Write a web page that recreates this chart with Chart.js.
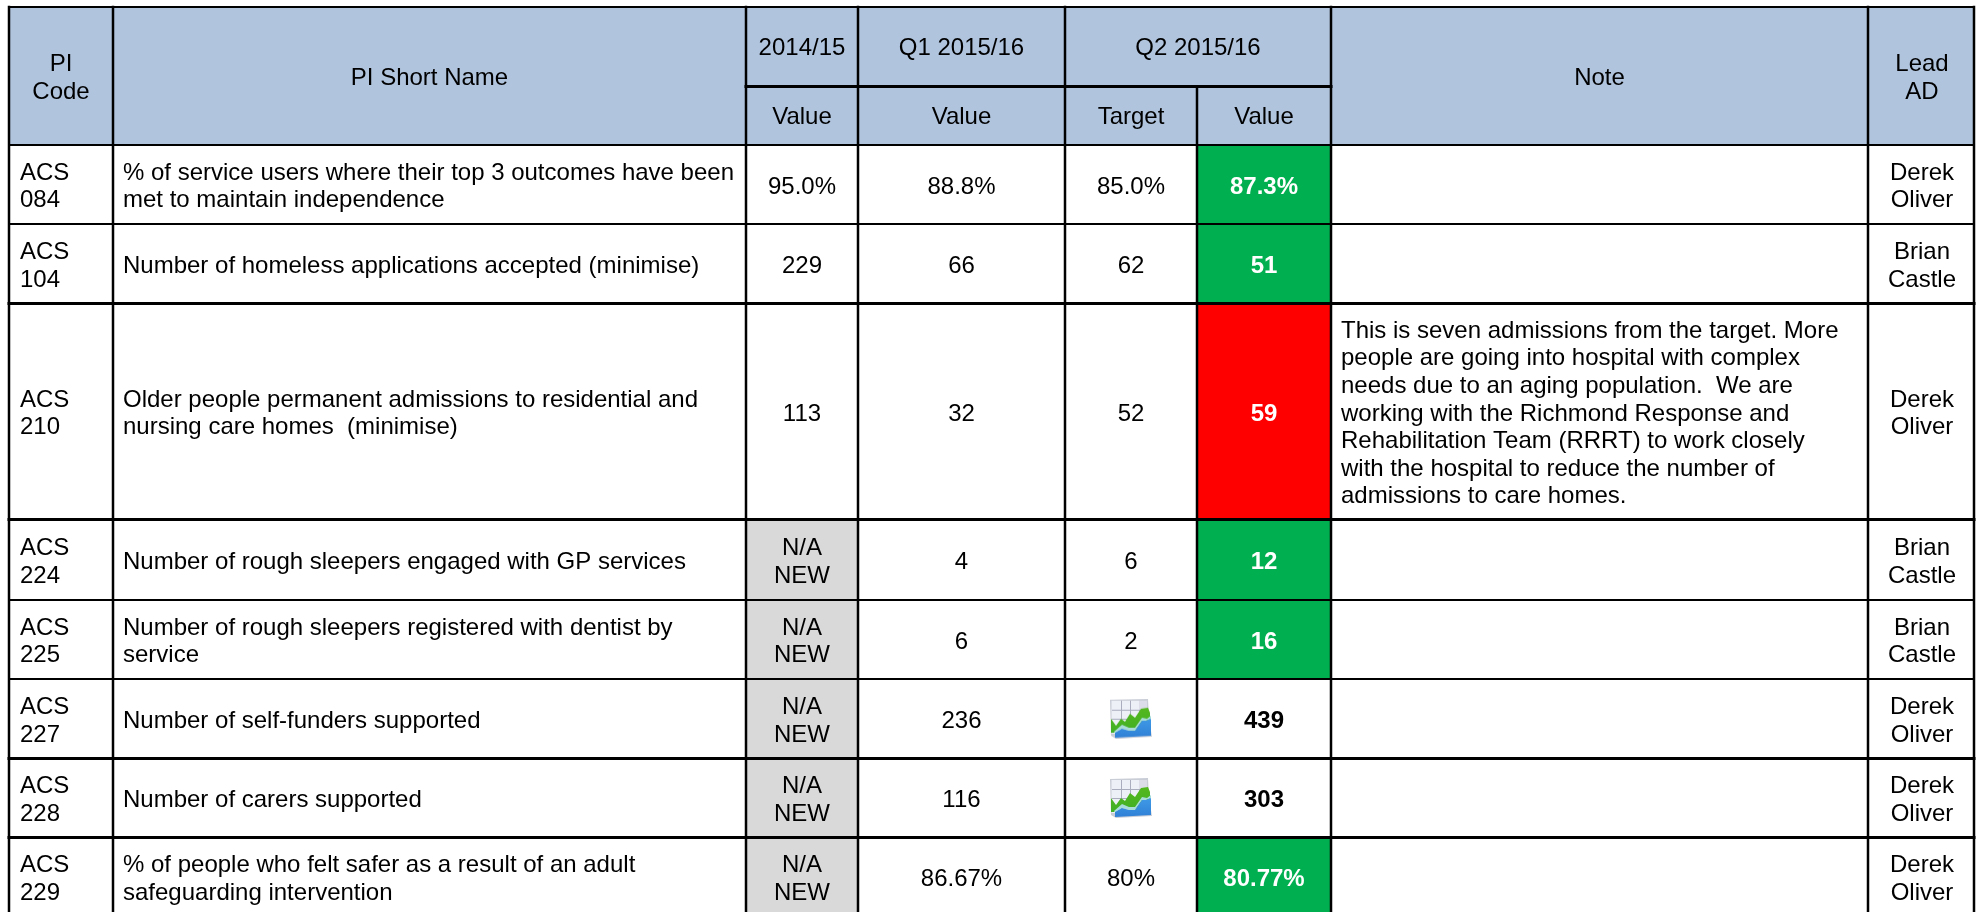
<!DOCTYPE html>
<html>
<head>
<meta charset="utf-8">
<title>PI table</title>
<script src="https://cdn.jsdelivr.net/npm/chart.js@4/dist/chart.umd.min.js"></script>
<style>
html, body { margin: 0; padding: 0; background: #fff; overflow: hidden; }
canvas { display: block; }
</style>
</head>
<body>
<canvas id="piTable" width="1982" height="912"></canvas>
<script>
// table contents
const piCodes = ['ACS\n084', 'ACS\n104', 'ACS\n210', 'ACS\n224', 'ACS\n225', 'ACS\n227', 'ACS\n228', 'ACS\n229'];
const piNames = [
    '% of service users where their top 3 outcomes have been\nmet to maintain independence',
    'Number of homeless applications accepted (minimise)',
    'Older people permanent admissions to residential and\nnursing care homes  (minimise)',
    'Number of rough sleepers engaged with GP services',
    'Number of rough sleepers registered with dentist by\nservice',
    'Number of self-funders supported',
    'Number of carers supported',
    '% of people who felt safer as a result of an adult\nsafeguarding intervention',
];
const values2014 = ['95.0%', '229', '113', 'N/A\nNEW', 'N/A\nNEW', 'N/A\nNEW', 'N/A\nNEW', 'N/A\nNEW'];
const valuesQ1 = ['88.8%', '66', '32', '4', '6', '236', '116', '86.67%'];
const targetsQ2 = ['85.0%', '62', '52', '6', '2', null, null, '80%'];
const valuesQ2 = ['87.3%', '51', '59', '12', '16', '439', '303', '80.77%'];
const statusQ2 = ['good', 'good', 'bad', 'good', 'good', 'none', 'none', 'good'];
const notes = [
    '', '',
    'This is seven admissions from the target. More\npeople are going into hospital with complex\nneeds due to an aging population.  We are\nworking with the Richmond Response and\nRehabilitation Team (RRRT) to work closely\nwith the hospital to reduce the number of\nadmissions to care homes.',
    '', '', '', '', '',
];
const leads = ['Derek\nOliver', 'Brian\nCastle', 'Derek\nOliver', 'Brian\nCastle', 'Brian\nCastle', 'Derek\nOliver', 'Derek\nOliver', 'Derek\nOliver'];

// grid layout on the x / y scales
const colEdges = [9, 113, 746, 858, 1065, 1197, 1331, 1868, 1974];
const rowEdges = [7, 86.5, 145, 224, 303.5, 519.5, 600, 679, 758.5, 837.5, 916];
const ruleWidths = [2, 3, 2, 2, 3, 3, 2, 2, 3, 3, 3];

const COLORS = { header: '#b0c4de', good: '#00b050', bad: '#ff0000', none: '#ffffff', na: '#d9d9d9', cell: '#ffffff' };
const FONT = '"Liberation Sans", Arial, sans-serif';
const FONT_SIZE = 24;
const LINE_HEIGHT = 27.6;

const mid = (a, b) => (a + b) / 2;
const bodyRows = piCodes.map((_, i) => i + 2);

// filled cells, one floating bar dataset per column
function columnBars(col, colour) {
    const x0 = colEdges[col];
    const x1 = colEdges[col + 1];
    return {
        type: 'bar',
        order: 2,
        grouped: false,
        barThickness: x1 - x0,
        borderWidth: 0,
        backgroundColor: bodyRows.map((r, i) => colour(i)),
        data: bodyRows.map((r) => ({ x: mid(x0, x1), y: [rowEdges[r], rowEdges[r + 1]] })),
    };
}

function headerBar() {
    return {
        type: 'bar',
        order: 2,
        grouped: false,
        barThickness: colEdges[8] - colEdges[0],
        borderWidth: 0,
        backgroundColor: COLORS.header,
        data: [{ x: mid(colEdges[0], colEdges[8]), y: [rowEdges[0], rowEdges[2]] }],
    };
}

function rule(x0, y0, x1, y1, width) {
    return {
        type: 'line',
        order: 1,
        borderColor: '#000000',
        borderWidth: width,
        borderCapStyle: 'square',
        pointRadius: 0,
        fill: false,
        clip: false,
        data: [{ x: x0, y: y0 }, { x: x1, y: y1 }],
    };
}

function gridRules() {
    const rules = [];
    const top = rowEdges[0];
    const bottom = rowEdges[rowEdges.length - 1];
    rowEdges.forEach((y, r) => {
        if (r === 1) {
            rules.push(rule(colEdges[2], y, colEdges[6], y, ruleWidths[r]));
        } else {
            rules.push(rule(colEdges[0], y, colEdges[8], y, ruleWidths[r]));
        }
    });
    colEdges.forEach((x, c) => {
        // the Q2 Target / Value divider stops under the merged Q2 heading
        rules.push(rule(x, c === 5 ? rowEdges[1] : top, x, bottom, 2.5));
    });
    return rules;
}

// small spreadsheet glyph used where a target has no number
function makeChartIcon() {
    const c = document.createElement('canvas');
    c.width = 42;
    c.height = 40;
    const g = c.getContext('2d');
    const poly = (pts) => {
        g.beginPath();
        pts.forEach((p, i) => (i ? g.lineTo(p[0], p[1]) : g.moveTo(p[0], p[1])));
        g.closePath();
    };
    g.fillStyle = '#c9cdd6';
    poly([[0, 1], [38, 0], [39, 20], [42, 38], [6, 40], [1, 37]]);
    g.fill();
    g.fillStyle = '#eef0f8';
    g.fillRect(1.5, 2, 35, 33);
    g.strokeStyle = '#a9adbd';
    g.lineWidth = 1;
    [11, 20, 29].forEach((x) => { g.beginPath(); g.moveTo(x + 0.5, 2); g.lineTo(x + 0.5, 34); g.stroke(); });
    [11, 20].forEach((y) => { g.beginPath(); g.moveTo(2, y + 0.5); g.lineTo(37, y + 0.5); g.stroke(); });
    g.fillStyle = '#dcdde8';
    g.fillRect(29, 2, 8, 9);
    const green = g.createLinearGradient(0, 9, 0, 36);
    green.addColorStop(0, '#54b81e');
    green.addColorStop(1, '#3fae25');
    g.fillStyle = green;
    poly([[1, 20], [6, 27], [11, 20], [15, 23], [20, 15], [25, 19], [31, 10], [38, 9], [40, 14], [40, 21], [32, 24], [25, 32], [19, 30], [12, 28], [4, 34], [1, 34]]);
    g.fill();
    g.fillStyle = '#a8dcd8';
    poly([[4, 33], [12, 26], [19, 29], [25, 29], [32, 19], [37, 20], [41, 17], [41, 20], [36, 22], [32, 22], [25, 32], [19, 32], [12, 30], [5, 34]]);
    g.fill();
    const blue = g.createLinearGradient(0, 20, 0, 40);
    blue.addColorStop(0, '#3f9ae6');
    blue.addColorStop(1, '#2f7fd6');
    g.fillStyle = blue;
    poly([[5, 34], [12, 30], [19, 32], [25, 32], [32, 22], [36, 22], [41, 20], [41, 37], [5, 39]]);
    g.fill();
    return c;
}

function iconDataset() {
    const x = mid(colEdges[4], colEdges[5]);
    const data = [];
    targetsQ2.forEach((t, i) => {
        if (t === null) data.push({ x: x, y: mid(rowEdges[i + 2], rowEdges[i + 3]) });
    });
    return { type: 'scatter', order: 0, pointStyle: makeChartIcon(), data: data };
}

// text in the cells goes on top of the bars, positioned with the chart scales
function drawCellText(chart, text, col0, col1, row0, row1, opts) {
    if (!text) return;
    const { ctx, scales } = chart;
    const o = opts || {};
    const lines = text.split('\n');
    const yMid = scales.y.getPixelForValue(mid(rowEdges[row0], rowEdges[row1])) + (o.dy || 0);
    ctx.font = (o.bold ? 'bold ' : '') + FONT_SIZE + 'px ' + FONT;
    ctx.fillStyle = o.color || '#000000';
    ctx.textBaseline = 'alphabetic';
    let x;
    if (o.left) {
        ctx.textAlign = 'left';
        x = scales.x.getPixelForValue(colEdges[col0] + o.left);
    } else {
        ctx.textAlign = 'center';
        x = scales.x.getPixelForValue(mid(colEdges[col0], colEdges[col1])) + (o.dx || 0);
    }
    lines.forEach((line, i) => {
        const y = yMid + (i - (lines.length - 1) / 2) * LINE_HEIGHT + 9;
        ctx.fillText(line, x, y);
    });
}

const cellTextPlugin = {
    id: 'cellText',
    afterDatasetsDraw(chart) {
        const head = { dy: -1 };
        chart.ctx.save();
        drawCellText(chart, 'PI\nCode', 0, 1, 0, 2);
        drawCellText(chart, 'PI Short Name', 1, 2, 0, 2);
        drawCellText(chart, '2014/15', 2, 3, 0, 1, head);
        drawCellText(chart, 'Q1 2015/16', 3, 4, 0, 1, head);
        drawCellText(chart, 'Q2 2015/16', 4, 6, 0, 1, head);
        drawCellText(chart, 'Value', 2, 3, 1, 2, head);
        drawCellText(chart, 'Value', 3, 4, 1, 2, head);
        drawCellText(chart, 'Target', 4, 5, 1, 2, head);
        drawCellText(chart, 'Value', 5, 6, 1, 2, head);
        drawCellText(chart, 'Note', 6, 7, 0, 2);
        drawCellText(chart, 'Lead\nAD', 7, 8, 0, 2, { dx: 1 });
        piCodes.forEach((code, i) => {
            const r = i + 2;
            drawCellText(chart, code, 0, 1, r, r + 1, { left: 11 });
            drawCellText(chart, piNames[i], 1, 2, r, r + 1, { left: 10 });
            drawCellText(chart, values2014[i], 2, 3, r, r + 1);
            drawCellText(chart, valuesQ1[i], 3, 4, r, r + 1);
            drawCellText(chart, targetsQ2[i], 4, 5, r, r + 1);
            drawCellText(chart, valuesQ2[i], 5, 6, r, r + 1, {
                bold: true,
                color: statusQ2[i] === 'none' ? '#000000' : '#ffffff',
            });
            drawCellText(chart, notes[i], 6, 7, r, r + 1, { left: 10 });
            drawCellText(chart, leads[i], 7, 8, r, r + 1, { dx: 1 });
        });
        chart.ctx.restore();
    },
};

const cellColumns = [
    columnBars(0, () => COLORS.cell),
    columnBars(1, () => COLORS.cell),
    columnBars(2, (i) => (values2014[i].startsWith('N/A') ? COLORS.na : COLORS.cell)),
    columnBars(3, () => COLORS.cell),
    columnBars(4, () => COLORS.cell),
    columnBars(5, (i) => COLORS[statusQ2[i]]),
    columnBars(6, () => COLORS.cell),
    columnBars(7, () => COLORS.cell),
];

new Chart(document.getElementById('piTable').getContext('2d'), {
    data: { datasets: [iconDataset(), ...gridRules(), headerBar(), ...cellColumns] },
    plugins: [cellTextPlugin],
    options: {
        responsive: false,
        animation: false,
        layout: { padding: 0, autoPadding: false },
        plugins: { legend: { display: false }, tooltip: { enabled: false } },
        events: [],
        scales: {
            x: { type: 'linear', min: 0, max: 1982, offset: false, display: false },
            y: { type: 'linear', min: 0, max: 912, reverse: true, display: false },
        },
    },
});
</script>
</body>
</html>
